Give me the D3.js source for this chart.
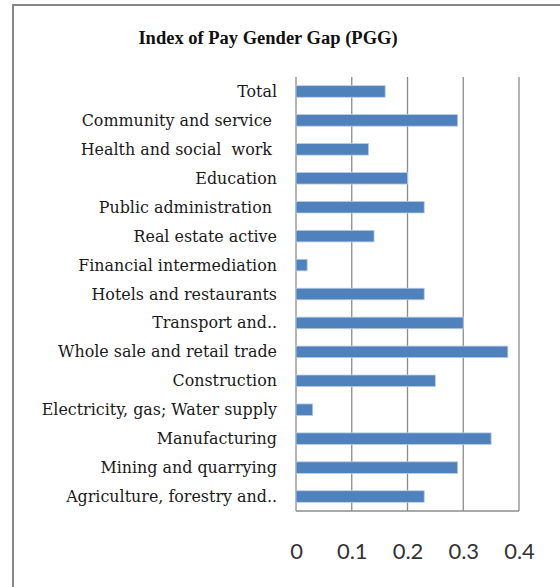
<!DOCTYPE html>
<html>
<head>
<meta charset="utf-8">
<script src="https://cdn.jsdelivr.net/npm/d3@7"></script>
<style>
  body { margin: 0; background: #fff; }
</style>
</head>
<body>
<div id="chart"></div>
<script>
// categories, top to bottom as drawn
const sectors = [
    "Total",
    "Community and service ",
    "Health and social  work ",
    "Education",
    "Public administration ",
    "Real estate active",
    "Financial intermediation",
    "Hotels and restaurants",
    "Transport and..",
    "Whole sale and retail trade",
    "Construction",
    "Electricity, gas; Water supply",
    "Manufacturing",
    "Mining and quarrying",
    "Agriculture, forestry and.."
];
const pgg = [0.16, 0.29, 0.13, 0.20, 0.23, 0.14, 0.02, 0.23, 0.30, 0.38, 0.25, 0.03, 0.35, 0.29, 0.23];
const xTicks = [0, 0.1, 0.2, 0.3, 0.4];
const chartTitle = "Index of Pay Gender Gap (PGG)";

const W = 560, H = 587;
const plot = {left: 296, right: 519, top: 77, bottom: 511};

const svg = d3.select("#chart").append("svg")
    .attr("width", W)
    .attr("height", H);

// outer frame (runs off the right and bottom edges)
svg.append("rect")
    .attr("x", 13).attr("y", 5)
    .attr("width", W + 10).attr("height", H + 10)
    .attr("fill", "#fff")
    .attr("stroke", "#878787")
    .attr("stroke-width", 2);

svg.append("text")
    .attr("x", 268).attr("y", 44)
    .attr("text-anchor", "middle")
    .attr("font-family", "'Liberation Serif', serif")
    .attr("font-weight", "bold")
    .attr("font-size", 18.5)
    .attr("fill", "#111")
    .text(chartTitle);

const x = d3.scaleLinear().domain([0, 0.4]).range([plot.left, plot.right]);
const y = d3.scaleBand().domain(sectors).range([plot.top, plot.bottom]).paddingInner(0.6).paddingOuter(0.3);

// vertical gridlines
svg.append("g")
    .selectAll("line")
    .data(xTicks)
    .join("line")
        .attr("x1", d => x(d)).attr("x2", d => x(d))
        .attr("y1", plot.top).attr("y2", plot.bottom)
        .attr("stroke", "#8c8c8c")
        .attr("stroke-width", 1.3);

svg.append("line")
    .attr("x1", plot.left).attr("x2", plot.right)
    .attr("y1", plot.bottom).attr("y2", plot.bottom)
    .attr("stroke", "#8c8c8c")
    .attr("stroke-width", 1.3);

// bars
svg.append("g")
    .selectAll("rect")
    .data(sectors)
    .join("rect")
        .attr("x", x(0))
        .attr("y", d => y(d))
        .attr("width", (d, i) => x(pgg[i]) - x(0))
        .attr("height", y.bandwidth())
        .attr("fill", "#4f81bd")
        .attr("stroke", "#b9cde5")
        .attr("stroke-width", 0.8);

// category labels
svg.append("g")
    .selectAll("text")
    .data(sectors)
    .join("text")
        .attr("x", 277)
        .attr("y", d => y(d) + y.bandwidth() / 2)
        .attr("dy", "0.35em")
        .attr("text-anchor", "end")
        .attr("font-family", "'DejaVu Serif', serif")
        .attr("font-size", 15.9)
        .attr("fill", "#1a1a1a")
        .style("white-space", "pre")
        .text(d => d);

// x tick labels
const xAxis = svg.append("g")
    .attr("transform", `translate(0,${plot.bottom})`)
    .call(d3.axisBottom(x).tickValues(xTicks).tickSize(0).tickPadding(32).tickFormat(d3.format("")));
xAxis.select(".domain").remove();
xAxis.selectAll("text")
    .attr("font-family", "Lato, 'Open Sans', sans-serif")
    .attr("font-size", 22)
    .attr("fill", "#333");
</script>
</body>
</html>
